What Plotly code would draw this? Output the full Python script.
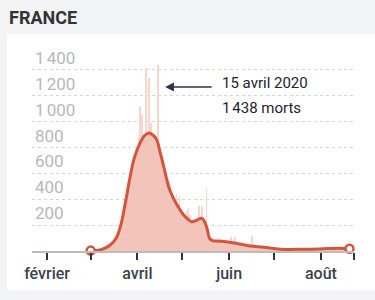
import pandas as pd
import plotly.graph_objects as go

# ---- data ----
title_text = "FRANCE"
day_start = "2020-03-01"
day_end = "2020-08-20"
deaths_mar = [0, 1, 0, 1, 2, 2, 2, 7, 9, 11, 15, 15, 18, 12, 36, 21, 27, 89, 108, 78,
              112, 112, 186, 240, 231, 365, 299, 319, 292, 418, 499]
deaths_apr = [509, 880, 1120, 1053, 518, 833, 1417, 541, 1341, 987, 635, 561, 574, 762, 1438,
              753, 761, 642, 395, 547, 531, 544, 516, 389, 369, 242, 437, 367, 427, 289]
deaths_may = [218, 166, 135, 306, 330, 278, 178, 243, 80, 70, 263, 348, 83, 351, 104, 96, 483,
              131, 0, 110, 83, 74, 43, 35, 98, 65, 66, 52, 52, 57, 31]
deaths_jun = [40, 107, 81, 44, 106, 27, 13, 64, 23, 60, 28, 40, 29, 24, 30, 116, 29, 31, 14, 9,
              12, 24, 23, 18, 14, 24, 16, 30, 23, 14]
deaths_jul = [11, 18, 14, 25, 8, 9, 13, 17, 13, 14, 25, 6, 4, 9, 14, 11, 9, 13, 5, 3, 24, 14,
              11, 13, 14, 10, 9, 12, 18, 12, 16]
deaths_aug = [8, 10, 12, 15, 19, 14, 17, 22, 13, 15, 18, 20, 17, 16, 15, 14, 18, 25, 21, 19]

curve_dates = ["2020-03-01", "2020-03-08", "2020-03-14", "2020-03-18", "2020-03-21",
               "2020-03-24", "2020-03-27", "2020-03-30", "2020-04-03", "2020-04-06",
               "2020-04-09", "2020-04-12", "2020-04-14", "2020-04-16", "2020-04-18",
               "2020-04-20", "2020-04-22", "2020-04-24", "2020-04-26", "2020-04-28",
               "2020-05-01", "2020-05-04", "2020-05-07", "2020-05-10", "2020-05-14",
               "2020-05-17", "2020-05-19", "2020-05-21", "2020-05-25", "2020-05-30",
               "2020-06-08", "2020-06-15", "2020-06-24", "2020-07-05", "2020-07-16",
               "2020-07-31", "2020-08-13", "2020-08-20"]
curve_values = [3, 10, 46, 100, 200, 370, 560, 720, 840, 895, 913, 890, 857, 770, 680,
                580, 490, 432, 385, 345, 290, 252, 226, 236, 252, 188, 98, 80, 76, 72,
                54, 39, 29, 13, 13, 15, 22, 18]

x_range = ["2020-01-22", "2020-08-23"]
x_tickvals = ["2020-02-01", "2020-03-01", "2020-04-01", "2020-05-01", "2020-06-01",
              "2020-07-01", "2020-08-01", "2020-08-23"]
x_ticktext = ["février", "", "avril", "", "juin", "", "août", ""]
y_tickvals = [200, 400, 600, 800, 1000, 1200, 1400]
y_ticktext = ["200", "400", "600", "800", "1\u202f000", "1\u202f200", "1\u202f400"]

peak_date = "2020-04-15"
peak_value = 1438
note_line1 = "15 avril 2020"
note_line2 = "1\u202f438 morts"

# ---- figure ----
bar_dates = pd.date_range(day_start, day_end, freq="D")
bar_values = deaths_mar + deaths_apr + deaths_may + deaths_jun + deaths_jul + deaths_aug

RED = "#d4553c"
FONT = "Roboto"

fig = go.Figure()
fig.add_trace(go.Scatter(x=curve_dates, y=curve_values, mode="lines", line=dict(width=0, shape="spline"),
                         fill="tozeroy", fillcolor="#f2c4ba", hoverinfo="skip"))
fig.add_trace(go.Bar(x=bar_dates, y=bar_values, marker=dict(color="#f7d6cf", line=dict(width=0)),
                     width=86400000 * 0.6))
fig.add_trace(go.Scatter(x=curve_dates, y=curve_values, mode="lines",
                         line=dict(color=RED, width=3, shape="spline")))
fig.add_trace(go.Scatter(x=[curve_dates[0], curve_dates[-1]], y=[curve_values[0], curve_values[-1]],
                         mode="markers", cliponaxis=False,
                         marker=dict(size=8, color="white", line=dict(color=RED, width=2.5))))

L, R, T, B = 32, 21, 57, 49
W, H = 375, 300
pw, ph = W - L - R, H - T - B
fig.add_shape(type="rect", xref="paper", yref="paper", layer="below",
              x0=(7 - L) / pw, x1=(W - L) / pw, y0=-(290 - (H - B)) / ph, y1=((H - B) - 34) / ph,
              fillcolor="white", line=dict(width=0))

fig.add_annotation(xref="paper", yref="paper", x=(7 - L) / pw, y=((H - B) - 17) / ph,
                   text="<b>" + title_text + "</b>", showarrow=False, xanchor="left", yanchor="middle",
                   font=dict(family=FONT, size=18, color="#333333"))

fig.add_annotation(x=pd.Timestamp(peak_date) + pd.Timedelta(days=4.5), y=1268, text="",
                   showarrow=True, ax=48, ay=0, arrowhead=2, arrowsize=1.1, arrowwidth=1.6,
                   arrowcolor="#2d3446")
fig.add_annotation(x=pd.Timestamp(peak_date) + pd.Timedelta(days=41), y=1297, text=note_line1,
                   showarrow=False, xanchor="left", yanchor="middle",
                   font=dict(family=FONT, size=15, color="#1e2230"))
fig.add_annotation(x=pd.Timestamp(peak_date) + pd.Timedelta(days=41), y=1104, text=note_line2,
                   showarrow=False, xanchor="left", yanchor="middle",
                   font=dict(family=FONT, size=15, color="#1e2230"))

fig.update_layout(
    width=W, height=H, margin=dict(l=L, r=R, t=T, b=B),
    paper_bgcolor="#f3f4f6", plot_bgcolor="white", showlegend=False, bargap=0,
    xaxis=dict(type="date", range=x_range, tickvals=x_tickvals, ticktext=x_ticktext,
               showgrid=False, showline=True, linecolor="#bcbcbc", linewidth=2,
               ticks="outside", ticklen=7, tickwidth=1.5, tickcolor="#2d3446",
               ticklabeloverflow="allow",
               tickfont=dict(family=FONT, size=16, color="#3c4250", weight=500), zeroline=False),
    yaxis=dict(range=[0, 1500], tickvals=y_tickvals, ticktext=y_ticktext,
               ticklabelposition="inside top", ticklabeloverflow="allow",
               showgrid=True, gridcolor="#d4d4d4",
               griddash="3px,3px", gridwidth=1, zeroline=False, showline=False, ticks="",
               tickfont=dict(family=FONT, size=17, color="#b8b8b8")),
)

fig.write_html("out.html")
